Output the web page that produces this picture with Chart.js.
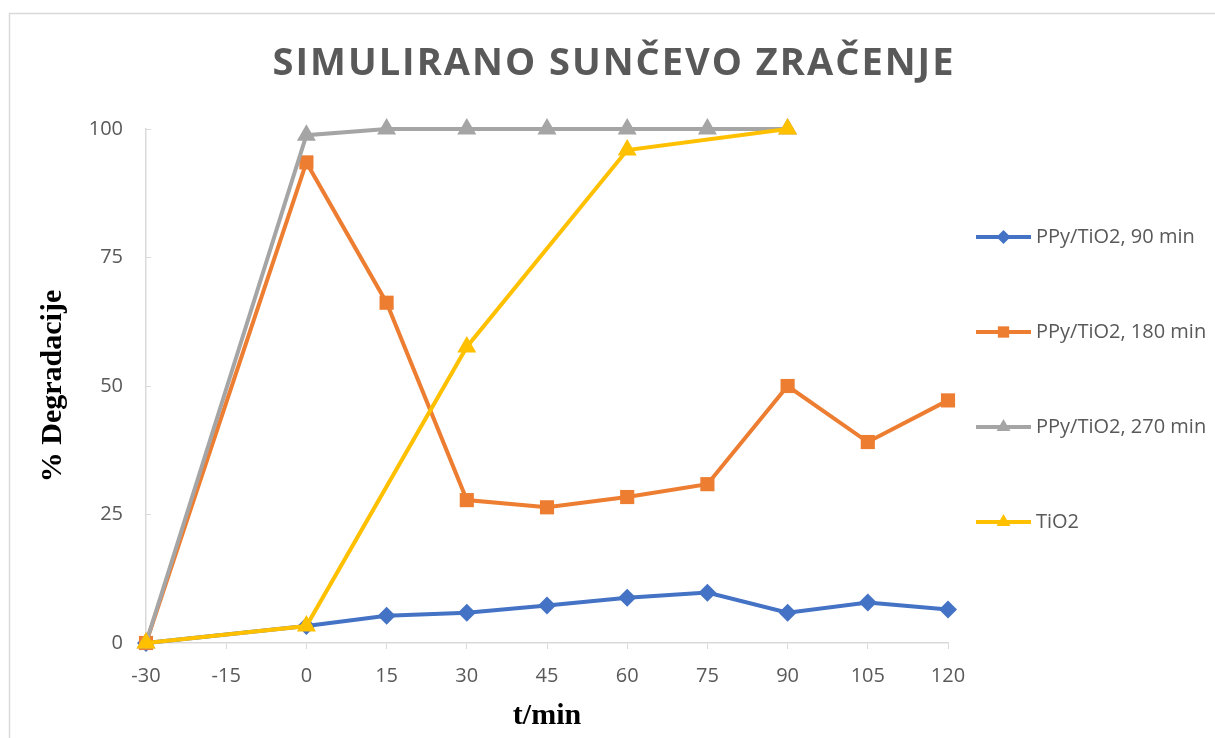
<!DOCTYPE html>
<html>
<head>
<meta charset="utf-8">
<script src="https://cdn.jsdelivr.net/npm/chart.js@4/dist/chart.umd.min.js"></script>
<style>
    html, body { margin: 0; padding: 0; background: #fff; }
    #wrap { width: 1215px; height: 738px; }
</style>
</head>
<body>
<div id="wrap"><canvas id="c" width="1215" height="738"></canvas></div>
<script>
const xMinutes = [-30, 0, 15, 30, 45, 60, 75, 90, 105, 120];
const ppy90 = [0, 3.3, 5.3, 5.9, 7.3, 8.8, 9.8, 5.9, 7.9, 6.5];
const ppy180 = [0, 93.5, 66.2, 27.8, 26.4, 28.4, 30.9, 50.0, 39.1, 47.2];
const ppy270 = [0, 98.8, 100, 100, 100, 100, 100, 100, null, null];
const tio2 = [0, 3.3, null, 57.6, null, 95.9, null, 100, null, null];
const seriesNames = ["PPy/TiO2, 90 min", "PPy/TiO2, 180 min", "PPy/TiO2, 270 min", "TiO2"];
const xTicks = [-30, -15, 0, 15, 30, 45, 60, 75, 90, 105, 120];
const yTicks = [0, 25, 50, 75, 100];

function toPoints(vals) {
    let out = [];
    for (let i = 0; i < xMinutes.length; i++) {
        if (vals[i] !== null) out.push({ x: xMinutes[i], y: vals[i] });
    }
    return out;
}

function makeSet(label, vals, color, style, r, ord) {
    return {
        label: label,
        data: toPoints(vals),
        borderColor: color,
        backgroundColor: color,
        borderWidth: 4,
        pointStyle: style,
        pointRadius: r,
        pointHoverRadius: r,
        pointBorderWidth: 0,
        tension: 0,
        clip: false,
        order: ord
    };
}

// frame round the chart
const framePlugin = {
    id: 'frame',
    beforeDraw(chart) {
        const ctx = chart.ctx;
        ctx.save();
        ctx.fillStyle = '#fff';
        ctx.fillRect(0, 0, chart.width, chart.height);
        ctx.strokeStyle = '#d9d9d9';
        ctx.lineWidth = 1.5;
        ctx.strokeRect(9.5, 13.5, 1250, 800);
        ctx.restore();
    }
};

// spaced title
const titlePlugin = {
    id: 'spacedTitle',
    afterDraw(chart) {
        const ctx = chart.ctx;
        ctx.save();
        ctx.font = 'bold 38px "Open Sans"';
        ctx.letterSpacing = '2px';
        ctx.fillStyle = '#595959';
        ctx.textAlign = 'center';
        ctx.textBaseline = 'alphabetic';
        ctx.fillText('SIMULIRANO SUNČEVO ZRAČENJE', 614, 75);
        ctx.restore();
    }
};

// legend on the right: line + marker + text
const legendPlugin = {
    id: 'sideLegend',
    afterDraw(chart) {
        const ctx = chart.ctx;
        chart.data.datasets.forEach((ds, i) => {
            const y = 237 + i * 95;
            ctx.save();
            ctx.strokeStyle = ds.borderColor;
            ctx.lineWidth = 4;
            ctx.beginPath();
            ctx.moveTo(976, y);
            ctx.lineTo(1031, y);
            ctx.stroke();
            ctx.fillStyle = ds.backgroundColor;
            Chart.helpers.drawPoint(ctx, {
                pointStyle: ds.pointStyle,
                radius: ds.pointStyle === 'rectRot' ? 7 : 8,
                rotation: 0,
                borderWidth: 0
            }, 1003.5, y);
            ctx.fillStyle = '#595959';
            ctx.font = '20px "Open Sans"';
            ctx.textAlign = 'left';
            ctx.textBaseline = 'middle';
            ctx.fillText(ds.label, 1036, y);
            ctx.restore();
        });
    }
};

new Chart(document.getElementById('c'), {
    type: 'line',
    data: {
        datasets: [
            makeSet(seriesNames[0], ppy90, '#4472C4', 'rectRot', 9, 4),
            makeSet(seriesNames[1], ppy180, '#ED7D31', 'rect', 10, 3),
            makeSet(seriesNames[2], ppy270, '#A5A5A5', 'triangle', 11, 2),
            makeSet(seriesNames[3], tio2, '#FFC000', 'triangle', 11, 1)
        ]
    },
    options: {
        responsive: false,
        animation: false,
        events: [],
        layout: { padding: { top: 129, right: 267, bottom: 0, left: 0 } },
        plugins: {
            legend: { display: false },
            title: { display: false },
            tooltip: { enabled: false }
        },
        scales: {
            x: {
                type: 'linear',
                min: -30,
                max: 120,
                afterFit(scale) { scale.height = 95; },
                afterBuildTicks(scale) { scale.ticks = xTicks.map(v => ({ value: v })); },
                ticks: {
                    color: '#595959',
                    font: { family: 'Open Sans', size: 20 },
                    padding: 15,
                    maxRotation: 0,
                    autoSkip: false
                },
                grid: {
                    drawOnChartArea: false,
                    drawTicks: true,
                    tickLength: 6,
                    color: '#d9d9d9'
                },
                border: { display: true, color: '#d9d9d9', width: 1.5 },
                title: {
                    display: true,
                    text: 't/min',
                    color: '#000',
                    font: { family: 'Liberation Serif', size: 30, weight: 'bold' },
                    padding: { top: 0, bottom: 4 }
                }
            },
            y: {
                min: 0,
                max: 100,
                afterFit(scale) { scale.width = 146; },
                afterBuildTicks(scale) { scale.ticks = yTicks.map(v => ({ value: v })); },
                ticks: {
                    color: '#595959',
                    font: { family: 'Open Sans', size: 20 },
                    padding: 28
                },
                grid: {
                    drawOnChartArea: false,
                    drawTicks: true,
                    tickLength: -5,
                    color: '#d9d9d9'
                },
                border: { display: true, color: '#d9d9d9', width: 1.5 },
                title: {
                    display: true,
                    text: '% Degradacije',
                    color: '#000',
                    font: { family: 'Liberation Serif', size: 30, weight: 'bold' },
                    padding: { top: 35, bottom: 0 }
                }
            }
        }
    },
    plugins: [framePlugin, titlePlugin, legendPlugin]
});
</script>
</body>
</html>
